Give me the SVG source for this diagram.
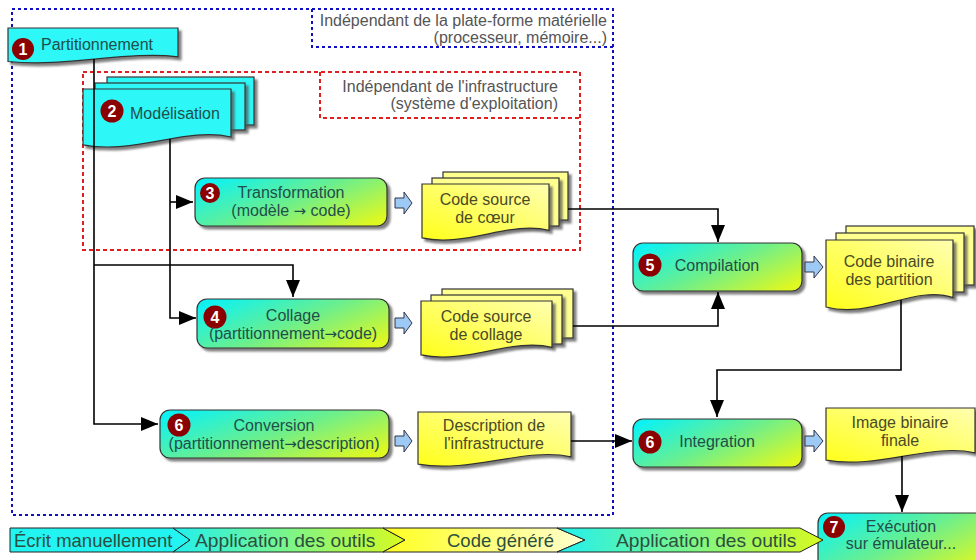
<svg xmlns="http://www.w3.org/2000/svg" width="976" height="560" viewBox="0 0 976 560">
<style>
text{font-family:"Liberation Sans",Arial,sans-serif}
.t{font-size:16px;fill:#1f4f4a;text-anchor:middle}
.ty{font-size:16px;fill:#4a4a26;text-anchor:middle}
.lbl{font-size:16px;fill:#555;text-anchor:end}
.lg{font-size:18.5px;fill:#2b4f3f}
.ar{font-family:"DejaVu Sans",sans-serif;font-size:15px}
.cy{fill:#2ff7f7;stroke:#333;stroke-width:1.2;filter:url(#sh)}
.pr{fill:url(#gp);stroke:#333;stroke-width:1.2;filter:url(#sh)}
.ye{fill:url(#gy);stroke:#333;stroke-width:1.2;filter:url(#sh)}
.yb{fill:#ffff90;stroke:#333;stroke-width:1.2;filter:url(#sh)}
.ba{fill:#8b0000}
.bt{font-size:16px;font-weight:bold;fill:#fff;text-anchor:middle}
.blk{fill:#9ccaf5;stroke:#334;stroke-width:1}
.c{fill:none;stroke:#000;stroke-width:1.6;marker-end:url(#ah)}
.bd{fill:none;stroke:#1010c0;stroke-width:2;stroke-dasharray:3 3}
.rd{fill:none;stroke:#e02020;stroke-width:2;stroke-dasharray:4 3}
.lgs{stroke:#222;stroke-width:1}
</style>
<defs>
<filter id="sh" x="-10%" y="-10%" width="130%" height="150%"><feDropShadow dx="3" dy="3" stdDeviation="1" flood-color="#555" flood-opacity="0.75"/></filter>
<linearGradient id="gp" x1="0" y1="0.2" x2="1" y2="0.8"><stop offset="0" stop-color="#10f2f0"/><stop offset="0.5" stop-color="#6cef8c"/><stop offset="1" stop-color="#def822"/></linearGradient>
<linearGradient id="gy" x1="0" y1="1" x2="1" y2="0"><stop offset="0" stop-color="#ffff1a"/><stop offset="1" stop-color="#ffffb0"/></linearGradient>
<linearGradient id="gl2" x1="0" y1="0" x2="1" y2="0"><stop offset="0" stop-color="#20f0f0"/><stop offset="1" stop-color="#d8fa20"/></linearGradient>
<linearGradient id="gl3" x1="0" y1="0" x2="1" y2="0"><stop offset="0" stop-color="#ffff20"/><stop offset="1" stop-color="#ffffd0"/></linearGradient>
<marker id="ah" markerWidth="18" markerHeight="14" refX="17" refY="7" orient="auto" markerUnits="userSpaceOnUse"><path d="M0,0 L17,7 L0,14 Z" fill="#000"/></marker>
</defs>
<rect width="976" height="560" fill="#fff"/>

<g id="zone-materielle">
<path class="bd" d="M12,9 H613 V515 H12 Z"/>
<path class="bd" d="M312,9 V47 H613"/>
<text class="lbl" x="607" y="26">Indépendant de la plate-forme matérielle</text>
<text class="lbl" x="607" y="43">(processeur, mémoire...)</text>
</g>
<g id="zone-infrastructure">
<path class="rd" d="M83,72 H580 V250 H83 Z"/>
<path class="rd" d="M320,72 V118 H580"/>
<text class="lbl" x="558" y="92">Indépendant de l'infrastructure</text>
<text class="lbl" x="558" y="109">(système d'exploitation)</text>
</g>

<g id="n1">
<path class="cy" d="M8,28 H178 V56.8 C127,50.3 67.5,67.6 8,61.5 Z"/>
<circle class="ba" cx="23" cy="49" r="11"/><text class="bt" x="23" y="54.5">1</text>
<text class="t" x="41" y="50" style="text-anchor:start">Partitionnement</text>
</g>
<g id="n2">
<rect class="cy" x="107" y="77" width="147" height="48"/>
<rect class="cy" x="95" y="83" width="150" height="47"/>
<path class="cy" d="M83,89 H231 V137 C186.6,126.2 134.8,155 83,144.8 Z"/>
<circle class="ba" cx="112" cy="111" r="11.5"/><text class="bt" x="112" y="116.5">2</text>
<text class="t" x="130" y="119" style="text-anchor:start">Modélisation</text>
</g>
<g id="n3">
<rect class="pr" x="195" y="178" width="192" height="48" rx="10"/>
<circle class="ba" cx="210" cy="193" r="10"/><text class="bt" x="210" y="198.5">3</text>
<text class="t" x="291" y="198">Transformation</text>
<text class="t" x="291" y="216">(modèle <tspan class="ar">→</tspan> code)</text>
</g>
<g id="d3">
<polygon class="blk" points="395,198 404,198 404,192 412,203 404,214 404,208 395,208"/>
<rect class="yb" x="443" y="172" width="125" height="48"/>
<rect class="yb" x="432" y="178" width="127" height="48"/>
<path class="ye" d="M422,184 H549 V230.4 C510.9,220 466.5,247.8 422,237.9 Z"/>
<text class="ty" x="485" y="205">Code source</text>
<text class="ty" x="485" y="223">de cœur</text>
</g>
<g id="n4">
<rect class="pr" x="197" y="299" width="192" height="49" rx="10"/>
<circle class="ba" cx="215" cy="317" r="11.5"/><text class="bt" x="215" y="322.5">4</text>
<text class="t" x="293" y="321">Collage</text>
<text class="t" x="293" y="339">(partitionnement<tspan class="ar">→</tspan>code)</text>
</g>
<g id="d4">
<polygon class="blk" points="395,318 404,318 404,312 412,323 404,334 404,328 395,328"/>
<rect class="yb" x="442" y="289" width="131" height="49"/>
<rect class="yb" x="431" y="295" width="131" height="49"/>
<path class="ye" d="M421,301 H552 V347.4 C512.7,337 466.9,364.8 421,354.9 Z"/>
<text class="ty" x="486" y="322">Code source</text>
<text class="ty" x="486" y="340">de collage</text>
</g>
<g id="n6a">
<rect class="pr" x="160" y="410" width="229" height="48" rx="10"/>
<circle class="ba" cx="179" cy="425" r="11.5"/><text class="bt" x="179" y="430.5">6</text>
<text class="t" x="274" y="431">Conversion</text>
<text class="t" x="274" y="449">(partitionnement<tspan class="ar">→</tspan>description)</text>
</g>
<g id="d6">
<polygon class="blk" points="395,436 404,436 404,430 412,441 404,452 404,446 395,446"/>
<path class="ye" d="M418,412 H571 V456.8 C525.1,446.7 471.6,473.6 418,464.1 Z"/>
<text class="ty" x="494" y="431">Description de</text>
<text class="ty" x="494" y="449">l'infrastructure</text>
</g>
<g id="n5">
<rect class="pr" x="633" y="243" width="169" height="48" rx="10"/>
<circle class="ba" cx="650" cy="265" r="11.5"/><text class="bt" x="650" y="270.5">5</text>
<text class="t" x="717" y="271">Compilation</text>
</g>
<g id="d5">
<polygon class="blk" points="805,262 814,262 814,256 823,267 814,278 814,272 805,272"/>
<rect class="yb" x="846" y="226" width="128" height="59"/>
<rect class="yb" x="836" y="233" width="128" height="59"/>
<path class="ye" d="M826,240 H953 V297.6 C914.9,284.6 870.5,319.2 826,307 Z"/>
<text class="ty" x="889" y="267">Code binaire</text>
<text class="ty" x="889" y="285">des partition</text>
</g>
<g id="n6b">
<rect class="pr" x="633" y="419" width="169" height="48" rx="10"/>
<circle class="ba" cx="650" cy="442" r="11.5"/><text class="bt" x="650" y="447.5">6</text>
<text class="t" x="717" y="447">Integration</text>
</g>
<g id="d7">
<polygon class="blk" points="805,436 814,436 814,430 823,441 814,452 814,446 805,446"/>
<path class="ye" d="M826,408 H975 V452.8 C930.3,442.7 878.2,469.6 826,460.1 Z"/>
<text class="ty" x="900" y="428">Image binaire</text>
<text class="ty" x="900" y="446">finale</text>
</g>
<g id="n7">
<rect class="pr" x="818" y="513" width="175" height="56" rx="10"/>
<circle class="ba" cx="834" cy="527" r="11"/><text class="bt" x="834" y="532.5">7</text>
<text class="t" x="901" y="532">Exécution</text>
<text class="t" x="901" y="549">sur émulateur...</text>
</g>

<g id="legend">
<polygon class="lgs" fill="#22f4f2" points="10,528 173,528 190,540 173,552 10,552"/>
<polygon class="lgs" fill="url(#gl2)" points="173,528 383,528 405,540 383,552 173,552 190,540"/>
<polygon class="lgs" fill="url(#gl3)" points="383,528 557,528 585,540 557,552 383,552 405,540"/>
<polygon class="lgs" fill="url(#gl2)" points="557,528 800,528 823,540 800,552 557,552 585,540"/>
<text class="lg" x="14" y="547">Écrit manuellement</text>
<text class="lg" x="195" y="547" style="font-size:19.2px">Application des outils</text>
<text class="lg" x="447" y="547">Code généré</text>
<text class="lg" x="616" y="547" style="font-size:19.2px">Application des outils</text>
</g>

<g id="connectors">
<path class="c" d="M94,59 V424 H158"/>
<path class="c" d="M94,265 H293 V297"/>
<path class="c" d="M170,139 V318 H196"/>
<path class="c" d="M170,202 H193"/>
<path class="c" d="M568,209 H718 V242"/>
<path class="c" d="M573,326 H718 V292"/>
<path class="c" d="M901,300 V370 H717 V417"/>
<path class="c" d="M571,441 H632"/>
<path class="c" d="M902,456 V512"/>
</g>
</svg>
